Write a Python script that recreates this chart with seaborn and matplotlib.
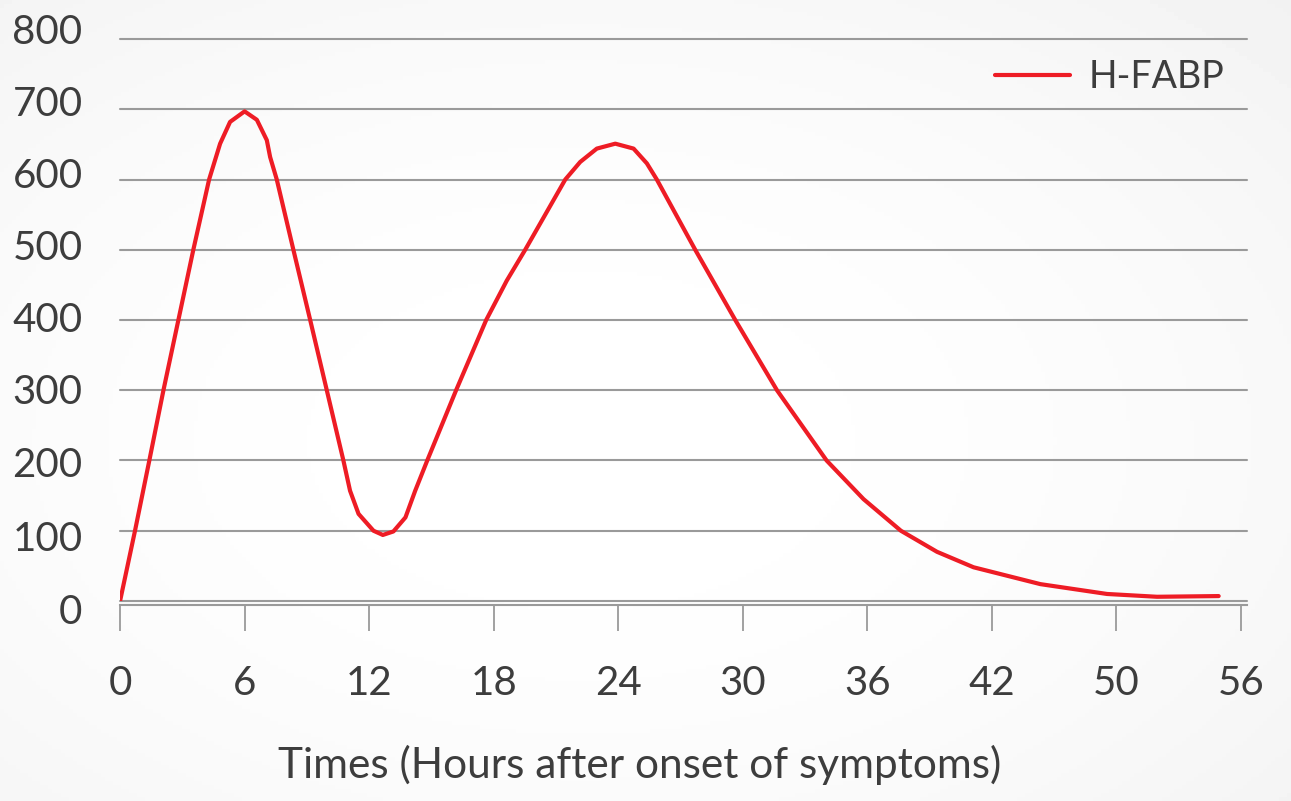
import numpy as np
import pandas as pd
import matplotlib
matplotlib.use("Agg")
import matplotlib.pyplot as plt
import matplotlib.transforms as mtransforms
import seaborn as sns

# values (hours after onset, concentration)
hours = [0, 0.72, 1.41, 2.09, 2.81, 3.53, 4.29, 4.82, 5.30, 6.0, 6.59, 7.07,
         7.23, 7.55, 8.35, 9.16, 9.96, 10.76, 11.08, 11.49, 12.21, 12.66,
         13.17, 13.75, 14.22, 14.8, 16.19, 17.64, 18.63, 19.52, 21.45, 22.17,
         22.97, 23.86, 24.74, 25.38, 25.86, 27.71, 29.64, 31.65, 34.04, 35.82,
         37.62, 39.36, 41.12, 44.34, 47.55, 49.96, 52.93]
hfabp = [0, 100, 200, 300, 400, 500, 600, 651, 682, 697, 685, 656,
         632, 600, 500, 400, 300, 200, 157, 124, 100, 94,
         99, 119, 157, 200, 300, 400, 456, 500, 600, 625,
         644, 651, 644, 623, 600, 500, 400, 300, 200, 145,
         100, 70, 48, 24, 10, 6, 7]

tick_pos = [0, 6, 12, 18, 24, 30, 36, 42, 48, 54]
tick_labels = ["0", "6", "12", "18", "24", "30", "36", "42", "50", "56"]
y_ticks = [0, 100, 200, 300, 400, 500, 600, 700, 800]

df = pd.DataFrame({"hours": hours, "value": hfabp})

sns.set_style("white")
plt.rcParams["font.family"] = ["Lato", "DejaVu Sans"]
txt = "#3d3d3d"
grid_c = "#9a9a9a"

fig = plt.figure(figsize=(12.91, 8.01), dpi=100)

# soft radial background
bg = fig.add_axes([0, 0, 1, 1], zorder=-1)
yy, xx = np.mgrid[0:1:200j, 0:1:320j]
r = np.sqrt(((xx - 0.45) / 0.9) ** 2 + ((yy - 0.55) / 0.9) ** 2)
bg.imshow(1 - 0.07 * r ** 2, cmap="gray", vmin=0, vmax=1, aspect="auto",
          extent=[0, 1, 0, 1])
bg.axis("off")

ax = fig.add_axes([0.0930, 0.2497, 0.8730, 0.7016])
ax.set_facecolor("none")

sns.lineplot(data=df, x="hours", y="value", ax=ax, color="#ee1c25",
             linewidth=3, label="H-FABP", sort=False)

ax.set_xlim(0, 54.3)
ax.set_ylim(0, 800)
ax.set_yticks(y_ticks)
ax.set_xticks(tick_pos)
ax.set_xticklabels(tick_labels)

for yv in y_ticks:
    ax.axhline(yv, color=grid_c, lw=1.5, zorder=0, clip_on=False)

for s in ["top", "right", "left"]:
    ax.spines[s].set_visible(False)
ax.spines["bottom"].set_position(("outward", 3))
ax.spines["bottom"].set_color(grid_c)
ax.spines["bottom"].set_linewidth(1.5)

ax.tick_params(axis="y", left=False, length=0, pad=27, labelsize=29,
               labelcolor=txt)
ax.tick_params(axis="x", bottom=True, direction="out", length=19, width=1.3,
               color=grid_c, pad=24, labelsize=29, labelcolor=txt)

# the y labels in the original drift a little away from their gridlines
for lab in ax.get_yticklabels():
    v = lab.get_position()[1]
    shift = (v - 250) / 550 * 10 if v > 250 else (v - 250) / 250 * 8
    lab.set_transform(lab.get_transform() + mtransforms.ScaledTranslation(
        0, shift / 100, fig.dpi_scale_trans))

ax.set_ylabel("")
ax.set_xlabel("")
fig.text(640 / 1291, 1 - 778 / 801, "Times (Hours after onset of symptoms)",
         fontsize=30.5, color=txt, ha="center", va="baseline")

ax.legend(loc="center left", bbox_to_anchor=(976 / 1291, 1 - 77 / 801),
          bbox_transform=fig.transFigure, frameon=False, fontsize=27,
          handlelength=2.0, handletextpad=0.5, borderpad=0,
          labelcolor=txt)

fig.savefig("out.png", dpi=100)
